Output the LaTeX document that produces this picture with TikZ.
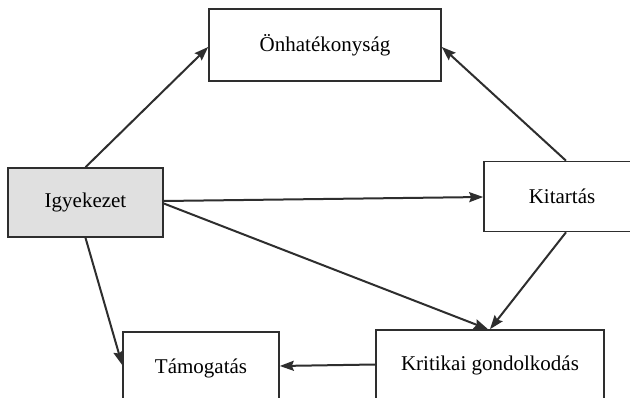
\documentclass[tikz,border=0pt]{standalone}
\usepackage{fontspec}
\setmainfont{Liberation Serif}
\usetikzlibrary{arrows.meta,calc}
\definecolor{linec}{HTML}{2E2E2E}
\definecolor{boxfill}{HTML}{E0E0E0}
\begin{document}
\begin{tikzpicture}[x=1pt,y=-1pt,
  box/.style={draw=linec,line width=1.6pt,rectangle,inner sep=0pt,font=\fontsize{21}{25}\selectfont,text=black},
  arr/.style={draw=linec,line width=2pt,-{Stealth[length=14pt,width=10pt,inset=2pt]}}]
\useasboundingbox (0,0) rectangle (630,398);
\clip (0,0) rectangle (630,398);
\fill[white] (0,0) rectangle (630,398);
\node[box,minimum width=232pt,minimum height=72pt] (onh) at (325,45) {Önhatékonyság};
\node[box,fill=boxfill,minimum width=155pt,minimum height=69pt] (igy) at (85.5,202.5) {Igyekezet};
\node[box,minimum width=156pt,minimum height=70pt] (kit) at (562,196.5) {Kitartás};
\node[box,minimum width=156pt,minimum height=72pt] (tam) at (201,368) {Támogatás};
\node[box,minimum width=228pt,minimum height=70pt] (krit) at (490,365) {Kritikai gondolkodás};
\draw[arr] (igy.north) -- ($(onh.west)+(0,2)$);
\draw[arr] ($(kit.north)+(4,0)$) -- ($(onh.east)+(0,2)$);
\draw[arr] ($(igy.east)+(0,-1.5)$) -- ($(kit.west)+(0,0.5)$);
\draw[arr] ($(igy.east)+(0,1)$) -- ($(krit.north)+(-2,0)$);
\draw[arr] ($(kit.south)+(4,0)$) -- ($(krit.north)+(0,0)$);
\draw[arr] (igy.south) -- ($(tam.west)+(0,-3)$);
\draw[arr] ($(krit.west)+(0,-0.5)$) -- ($(tam.east)+(0,-2)$);
\end{tikzpicture}
\end{document}
